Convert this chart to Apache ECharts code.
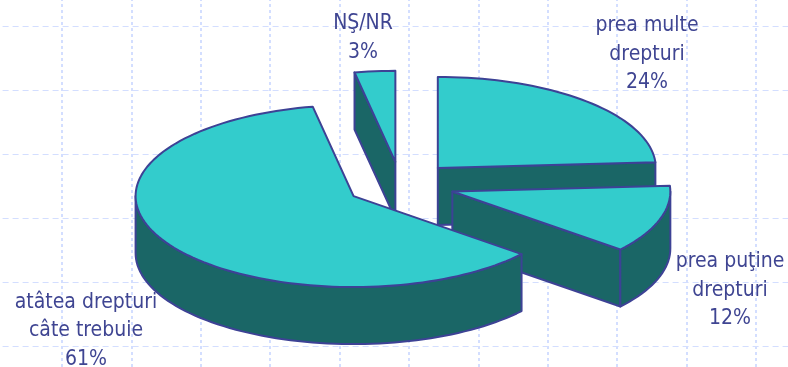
<!DOCTYPE html>
<html><head><meta charset="utf-8">
<style>html,body{margin:0;padding:0;background:#fff}#c{width:788px;height:367px}</style>
<script src="https://cdn.jsdelivr.net/npm/echarts@6/dist/echarts.min.js"></script>
</head><body><div id="c"></div>
<script>
// Data
const categories = ['prea multe\ndrepturi', 'prea puţine\ndrepturi', 'atâtea drepturi\ncâte trebuie', 'NŞ/NR'];
const percentValues = [24, 12, 61, 3];
const drawOrder = [3, 0, 1, 2];

// Styling / layout
const labelCenters = [[647, 54.5], [730, 290.5], [86, 331], [363, 38]];
const pie = {cx: 400.5, cy: 184.5, a: 218, b: 91, depth: 57, explode: 0.25};
const colors = {top: '#33cccc', side: '#1a6666', line: '#3d4295', text: '#3f4592', grid: '#d3deff'};

const cumulative = percentValues.map((v, i) => percentValues.slice(0, i).reduce((s, x) => s + x, 0));
const total = percentValues.reduce((s, x) => s + x, 0);
const sliceData = drawOrder.map(i => [percentValues[i], cumulative[i], i]);
const rad = d => d * Math.PI / 180;

function renderSlice(params, api) {
  const value = api.value(0), start = api.value(1) / total * 360;
  const end = start + value / total * 360, mid = (start + end) / 2;
  const ox = pie.cx + pie.explode * pie.a * Math.sin(rad(mid));
  const oy = pie.cy - pie.explode * pie.b * Math.cos(rad(mid));
  const P = (deg, dz) => [ox + pie.a * Math.sin(rad(deg)), oy - pie.b * Math.cos(rad(deg)) + (dz || 0)];
  const arc = (s, e, dz) => {
    const n = Math.max(2, Math.ceil((e - s) / 2)), out = [];
    for (let k = 0; k <= n; k++) out.push(P(s + (e - s) * k / n, dz));
    return out;
  };
  const A = [ox, oy], A2 = [ox, oy + pie.depth];
  const children = [];
  const side = pts => children.push({type: 'polygon', shape: {points: pts},
    style: {fill: colors.side, stroke: colors.line, lineWidth: 2, lineJoin: 'round'}});
  // cut faces seen from the front
  if (Math.cos(rad(start - 90)) < -1e-6) side([A, P(start), P(start, pie.depth), A2]);
  if (Math.cos(rad(end + 90)) < -1e-6) side([A, P(end), P(end, pie.depth), A2]);
  // outer rim seen from the front
  const rs = Math.max(start, 90), re = Math.min(end, 270);
  if (re > rs) side(arc(rs, re, 0).concat(arc(rs, re, pie.depth).reverse()));
  // top face
  children.push({type: 'polygon', shape: {points: [A].concat(arc(start, end, 0))},
    style: {fill: colors.top, stroke: colors.line, lineWidth: 2, lineJoin: 'round'}});
  return {type: 'group', children};
}

function renderLabel(params, api) {
  const i = api.value(2), c = labelCenters[i];
  return {type: 'text', x: c[0], y: c[1], style: {
    text: categories[i] + '\n' + percentValues[i] + '%',
    fill: colors.text, font: '21px "DejaVu Sans Condensed","Noto Sans",sans-serif',
    align: 'center', verticalAlign: 'middle', lineHeight: 28.5}};
}

const hiddenAxis = {type: 'value', min: 0, max: 12, interval: 1, axisLine: {show: false},
  axisTick: {show: false}, axisLabel: {show: false},
  splitLine: {show: true, lineStyle: {color: colors.grid, width: 2, type: [3, 3]}}};

const chart = echarts.init(document.getElementById('c'), null, {renderer: 'canvas'});
chart.setOption({
  animation: false,
  backgroundColor: '#ffffff',
  grid: {left: -7.4, top: -38, width: 69.4 * 12, height: 64 * 7, outerBoundsMode: 'none', containLabel: false},
  xAxis: hiddenAxis,
  yAxis: Object.assign({}, hiddenAxis, {max: 7, splitLine: {show: true, lineStyle: {color: colors.grid, width: 1, type: [6, 4]}}}),
  series: [
    {type: 'custom', coordinateSystem: 'none', data: sliceData, renderItem: renderSlice, silent: true},
    {type: 'custom', coordinateSystem: 'none', data: sliceData, renderItem: renderLabel, silent: true, z: 5}
  ]
});
</script></body></html>
